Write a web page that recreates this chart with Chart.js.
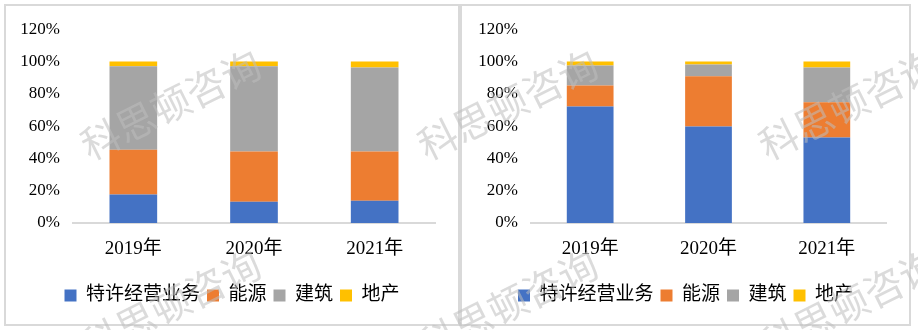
<!DOCTYPE html>
<html>
<head>
<meta charset="utf-8">
<script src="https://cdn.jsdelivr.net/npm/chart.js@4/dist/chart.umd.min.js"></script>
<style>
  html, body { margin: 0; padding: 0; background: #fff; width: 918px; height: 330px; overflow: hidden; }
  .panel { position: absolute; top: 4px; border: 2px solid #d9d9d9; background: #fff; }
  #p1 { left: 4px; width: 452px; height: 318px; }
  #p2 { left: 460px; width: 447px; height: 318px; }
  .panel canvas { display: block; }
  #marks { position: absolute; left: 0; top: 0; width: 918px; height: 330px; pointer-events: none; overflow: hidden; }
  #marks span {
    position: absolute; white-space: nowrap;
    font-family: 'Noto Sans CJK SC', sans-serif; font-size: 39px; line-height: 1;
    color: rgba(190,190,190,0.55);
    transform: translate(-50%, -50%) rotate(-26.5deg);
  }
</style>
</head>
<body>
<div class="panel" id="p1"><canvas id="c1" width="452" height="318"></canvas></div>
<div class="panel" id="p2"><canvas id="c2" width="447" height="318"></canvas></div>
<div id="marks"></div>
<script>
// Categories and legend entries
const years = ['2019年', '2020年', '2021年'];
const seriesNames = ['特许经营业务', '能源', '建筑', '地产'];
const seriesColors = ['#4472C4', '#ED7D31', '#A5A5A5', '#FFC000'];

// Y axis tick values (percent)
const yTicks = [0, 20, 40, 60, 80, 100, 120];

// Left chart shares (%)
const leftFranchise    = [17.7, 13.2, 13.8];
const leftEnergy       = [27.7, 31.0, 30.4];
const leftConstruction = [51.7, 52.9, 52.1];
const leftRealEstate   = [2.9, 2.9, 3.7];

// Right chart shares (%)
const rightFranchise    = [72.1, 59.7, 52.9];
const rightEnergy       = [13.0, 31.2, 21.9];
const rightConstruction = [12.4, 7.2, 21.5];
const rightRealEstate   = [2.5, 1.9, 3.7];

// Watermark text
const watermarkText = '科思顿咨询';

const serifFont = "'Liberation Serif', 'Noto Sans CJK SC', serif";

function makeChart(canvasId, seriesData, yWidth, rightGap) {
  const datasets = seriesData.map((values, i) => ({
    label: seriesNames[i],
    data: values,
    backgroundColor: seriesColors[i],
    borderWidth: 0,
    barPercentage: 0.395,
    categoryPercentage: 1.0
  }));
  return new Chart(document.getElementById(canvasId), {
    type: 'bar',
    data: { labels: years, datasets },
    options: {
      responsive: false,
      animation: false,
      events: [],
      layout: { padding: { top: 23, right: 0, bottom: 9, left: 0 } },
      plugins: {
        tooltip: { enabled: false },
        legend: {
          position: 'bottom',
          labels: {
            boxWidth: 12, boxHeight: 12, padding: 7,
            color: '#000',
            font: { family: serifFont, size: 19 }
          }
        }
      },
      scales: {
        x: {
          stacked: true,
          grid: { display: false, drawTicks: false },
          border: { display: true, color: '#d9d9d9', width: 2 },
          ticks: { color: '#000', padding: 15, font: { family: serifFont, size: 19 } },
          afterFit: s => { s.height = 56; }
        },
        y: {
          stacked: true,
          min: 0, max: 120,
          grid: { display: false, drawTicks: false },
          border: { display: false },
          afterBuildTicks: s => { s.ticks = yTicks.map(v => ({ value: v })); },
          ticks: {
            color: '#000', padding: 13,
            font: { family: serifFont, size: 17 },
            callback: v => v + '%'
          },
          afterFit: s => { s.width = yWidth; }
        },
        // empty right-hand margin axis: keeps the plot clear of the panel edge
        gap: {
          position: 'right',
          grid: { display: false, drawTicks: false },
          border: { display: false },
          ticks: { display: false },
          afterFit: s => { s.width = rightGap; }
        }
      }
    }
  });
}

makeChart('c1', [leftFranchise, leftEnergy, leftConstruction, leftRealEstate], 67, 23);
makeChart('c2', [rightFranchise, rightEnergy, rightConstruction, rightRealEstate], 69, 23);

// Tiled watermark over both panels
const markCenters = [[170, 103], [507, 103], [848, 103], [170, 303], [507, 303], [848, 303]];
const marks = document.getElementById('marks');
markCenters.forEach(([x, y]) => {
  const s = document.createElement('span');
  s.textContent = watermarkText;
  s.style.left = x + 'px';
  s.style.top = y + 'px';
  marks.appendChild(s);
});
</script>
</body>
</html>
